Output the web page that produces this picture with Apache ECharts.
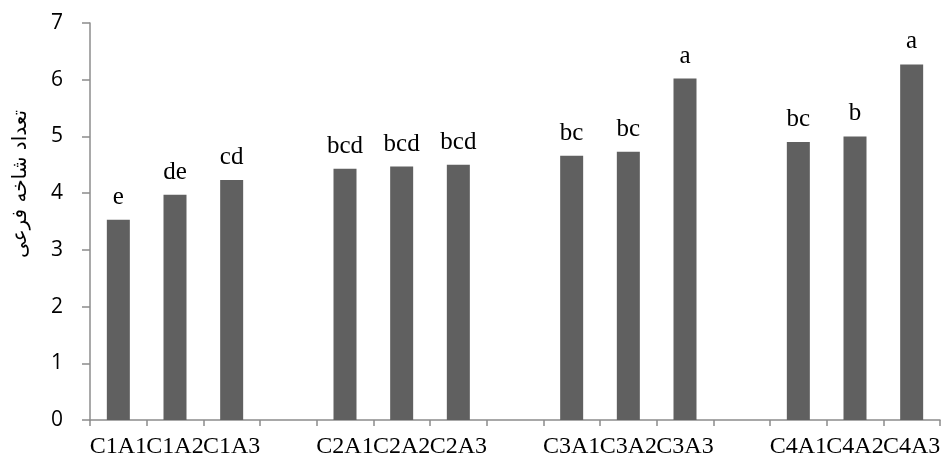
<!DOCTYPE html>
<html>
<head>
<meta charset="utf-8">
<script src="https://cdn.jsdelivr.net/npm/echarts@6/dist/echarts.min.js"></script>
<style>
  html, body { margin: 0; padding: 0; background: #fff; }
  #main { width: 947px; height: 462px; }
</style>
</head>
<body>
<div id="main"></div>
<script>
// categories (blank ones are the gaps between groups)
var categories = ['C1A1', 'C1A2', 'C1A3', '', 'C2A1', 'C2A2', 'C2A3', '', 'C3A1', 'C3A2', 'C3A3', '', 'C4A1', 'C4A2', 'C4A3'];
var values = [3.53, 3.97, 4.23, null, 4.43, 4.47, 4.50, null, 4.66, 4.73, 6.02, null, 4.90, 5.00, 6.27];
var letters = ['e', 'de', 'cd', '', 'bcd', 'bcd', 'bcd', '', 'bc', 'bc', 'a', '', 'bc', 'b', 'a'];
var yTicks = [0, 1, 2, 3, 4, 5, 6, 7];
var yTitle = 'تعداد شاخه فرعی';

var chart = echarts.init(document.getElementById('main'));

var option = {
    animation: false,
    grid: {
        left: 90,
        right: 7,
        top: 23,
        bottom: 42
    },
    xAxis: {
        type: 'category',
        data: categories,
        axisLine: { lineStyle: { color: '#8c8c8c', width: 1.5 } },
        axisTick: { show: true, length: 6, lineStyle: { color: '#8c8c8c', width: 1.5 } },
        axisLabel: {
            interval: 0,
            margin: 15,
            color: '#000',
            fontFamily: 'Liberation Serif',
            fontSize: 24
        }
    },
    yAxis: {
        type: 'value',
        min: yTicks[0],
        max: yTicks[yTicks.length - 1],
        interval: 1,
        splitLine: { show: false },
        axisLine: { show: true, lineStyle: { color: '#8c8c8c', width: 1.5 } },
        axisTick: { show: true, length: 8, lineStyle: { color: '#8c8c8c', width: 1.5 } },
        axisLabel: {
            margin: 27,
            color: '#000',
            fontFamily: 'Open Sans',
            fontSize: 21
        }
    },
    graphic: [{
        type: 'text',
        left: 11,
        top: 110,
        rotation: Math.PI / 2,
        style: {
            text: yTitle,
            fontFamily: 'DejaVu Sans',
            fontSize: 20,
            fill: '#000'
        }
    }],
    series: [{
        type: 'bar',
        data: values,
        barWidth: 23,
        itemStyle: { color: '#606060' },
        label: {
            show: true,
            position: 'top',
            distance: 10,
            color: '#000',
            fontFamily: 'Liberation Serif',
            fontSize: 25,
            formatter: function (p) { return letters[p.dataIndex]; }
        }
    }]
};

chart.setOption(option);
</script>
</body>
</html>
